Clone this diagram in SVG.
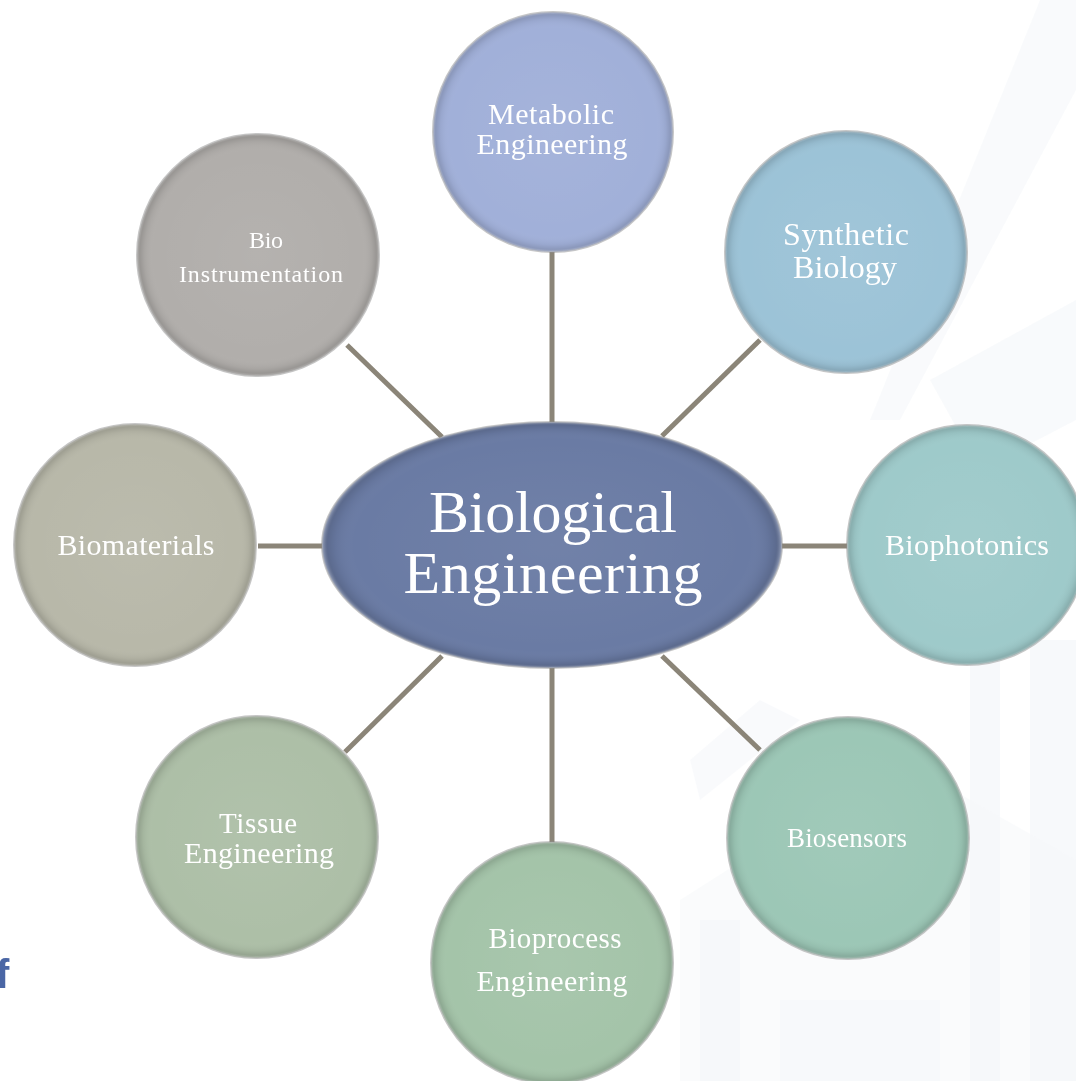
<svg xmlns="http://www.w3.org/2000/svg" width="1076" height="1081" viewBox="0 0 1076 1081">
<defs>
<radialGradient id="bevel" cx="0.5" cy="0.5" r="0.5">
<stop offset="0" stop-color="#ffffff" stop-opacity="0.05"/>
<stop offset="0.86" stop-color="#ffffff" stop-opacity="0"/>
<stop offset="0.94" stop-color="#000000" stop-opacity="0.05"/>
<stop offset="0.975" stop-color="#000000" stop-opacity="0.13"/>
<stop offset="1" stop-color="#ffffff" stop-opacity="0.35"/>
</radialGradient>
<style>
.node-bg{stroke:#8f8f8f;stroke-opacity:0.5;stroke-width:2}
.bev{fill:url(#bevel)}
.lbl{font-family:"Liberation Serif","Times New Roman",serif;fill:#ffffff;text-anchor:middle}
.conn{stroke:#8b8578;stroke-width:5;fill:none}
.bgshape{fill:#eef2f6}
</style>
</defs>
<rect width="1076" height="1081" fill="#ffffff"/>
<g id="background" opacity="0.55">
<polygon class="bgshape" points="1040,0 1076,0 1076,90 900,420 870,420" opacity="0.6"/>
<polygon class="bgshape" points="930,380 1076,300 1076,420 980,470" opacity="0.7"/>
<polygon class="bgshape" points="680,900 900,760 1076,860 1076,1081 680,1081" opacity="0.55"/>
<rect class="bgshape" x="700" y="920" width="40" height="161" opacity="0.9"/>
<rect class="bgshape" x="970" y="660" width="30" height="421" opacity="0.9"/>
<rect class="bgshape" x="1030" y="640" width="46" height="441" opacity="0.9"/>
<rect class="bgshape" x="780" y="1000" width="160" height="81" opacity="0.7"/>
<polygon class="bgshape" points="690,760 760,700 800,720 700,800" opacity="0.6"/>
</g>
<text x="-4" y="988" font-family="Liberation Sans, Arial, sans-serif" font-weight="bold" font-size="40" fill="#4a66a5">f</text>
<g id="connectors">
<line class="conn" x1="552" y1="252" x2="552" y2="422"/>
<line class="conn" x1="347" y1="345" x2="442" y2="437"/>
<line class="conn" x1="760" y1="340" x2="662" y2="436"/>
<line class="conn" x1="258" y1="546" x2="323" y2="546"/>
<line class="conn" x1="782" y1="546" x2="847" y2="546"/>
<line class="conn" x1="442" y1="656" x2="345" y2="752"/>
<line class="conn" x1="662" y1="656" x2="760" y2="750"/>
<line class="conn" x1="552" y1="668" x2="552" y2="843"/>
</g>
<g id="node-metabolic">
<circle class="node-bg" cx="553" cy="132" r="120" fill="#a1b0d9"/>
<circle class="bev" cx="553" cy="132" r="120"/>
<text class="lbl" font-size="30" x="551" y="124" textLength="126">Metabolic</text>
<text class="lbl" font-size="30" x="552" y="154" textLength="151">Engineering</text>
</g>
<g id="node-synthetic">
<circle class="node-bg" cx="846" cy="252" r="121" fill="#9cc3d7"/>
<circle class="bev" cx="846" cy="252" r="121"/>
<text class="lbl" font-size="32" x="846" y="245" textLength="126">Synthetic</text>
<text class="lbl" font-size="32" x="845" y="278" textLength="104">Biology</text>
</g>
<g id="node-biophotonics">
<circle class="node-bg" cx="967" cy="545" r="120" fill="#9ecaca"/>
<circle class="bev" cx="967" cy="545" r="120"/>
<text class="lbl" font-size="30" x="967" y="555" textLength="164">Biophotonics</text>
</g>
<g id="node-biosensors">
<circle class="node-bg" cx="848" cy="838" r="121" fill="#9cc7b6"/>
<circle class="bev" cx="848" cy="838" r="121"/>
<text class="lbl" font-size="27" x="847" y="847" textLength="120">Biosensors</text>
</g>
<g id="node-bioprocess">
<circle class="node-bg" cx="552" cy="963" r="121" fill="#a4c4a9"/>
<circle class="bev" cx="552" cy="963" r="121"/>
<text class="lbl" font-size="29" x="555" y="948" textLength="133">Bioprocess</text>
<text class="lbl" font-size="30" x="552" y="991" textLength="151">Engineering</text>
</g>
<g id="node-tissue">
<circle class="node-bg" cx="257" cy="837" r="121" fill="#adbfa7"/>
<circle class="bev" cx="257" cy="837" r="121"/>
<text class="lbl" font-size="29" x="258" y="833" textLength="78">Tissue</text>
<text class="lbl" font-size="30" x="259" y="863" textLength="150">Engineering</text>
</g>
<g id="node-biomaterials">
<circle class="node-bg" cx="135" cy="545" r="121" fill="#b8b8a9"/>
<circle class="bev" cx="135" cy="545" r="121"/>
<text class="lbl" font-size="30" x="136" y="555" textLength="157">Biomaterials</text>
</g>
<g id="node-bioinstrumentation">
<circle class="node-bg" cx="258" cy="255" r="121" fill="#b1aeab"/>
<circle class="bev" cx="258" cy="255" r="121"/>
<text class="lbl" font-size="24" x="266" y="248" textLength="34">Bio</text>
<text class="lbl" font-size="24" x="261" y="282" textLength="164">Instrumentation</text>
</g>
<g id="node-center">
<ellipse class="node-bg" cx="552" cy="545" rx="230" ry="123" fill="#6a7ba4"/>
<ellipse class="bev" cx="552" cy="545" rx="230" ry="123"/>
<text class="lbl" font-size="60" x="553" y="532" textLength="248">Biological</text>
<text class="lbl" font-size="60" x="553" y="593" textLength="299">Engineering</text>
</g>
</svg>
